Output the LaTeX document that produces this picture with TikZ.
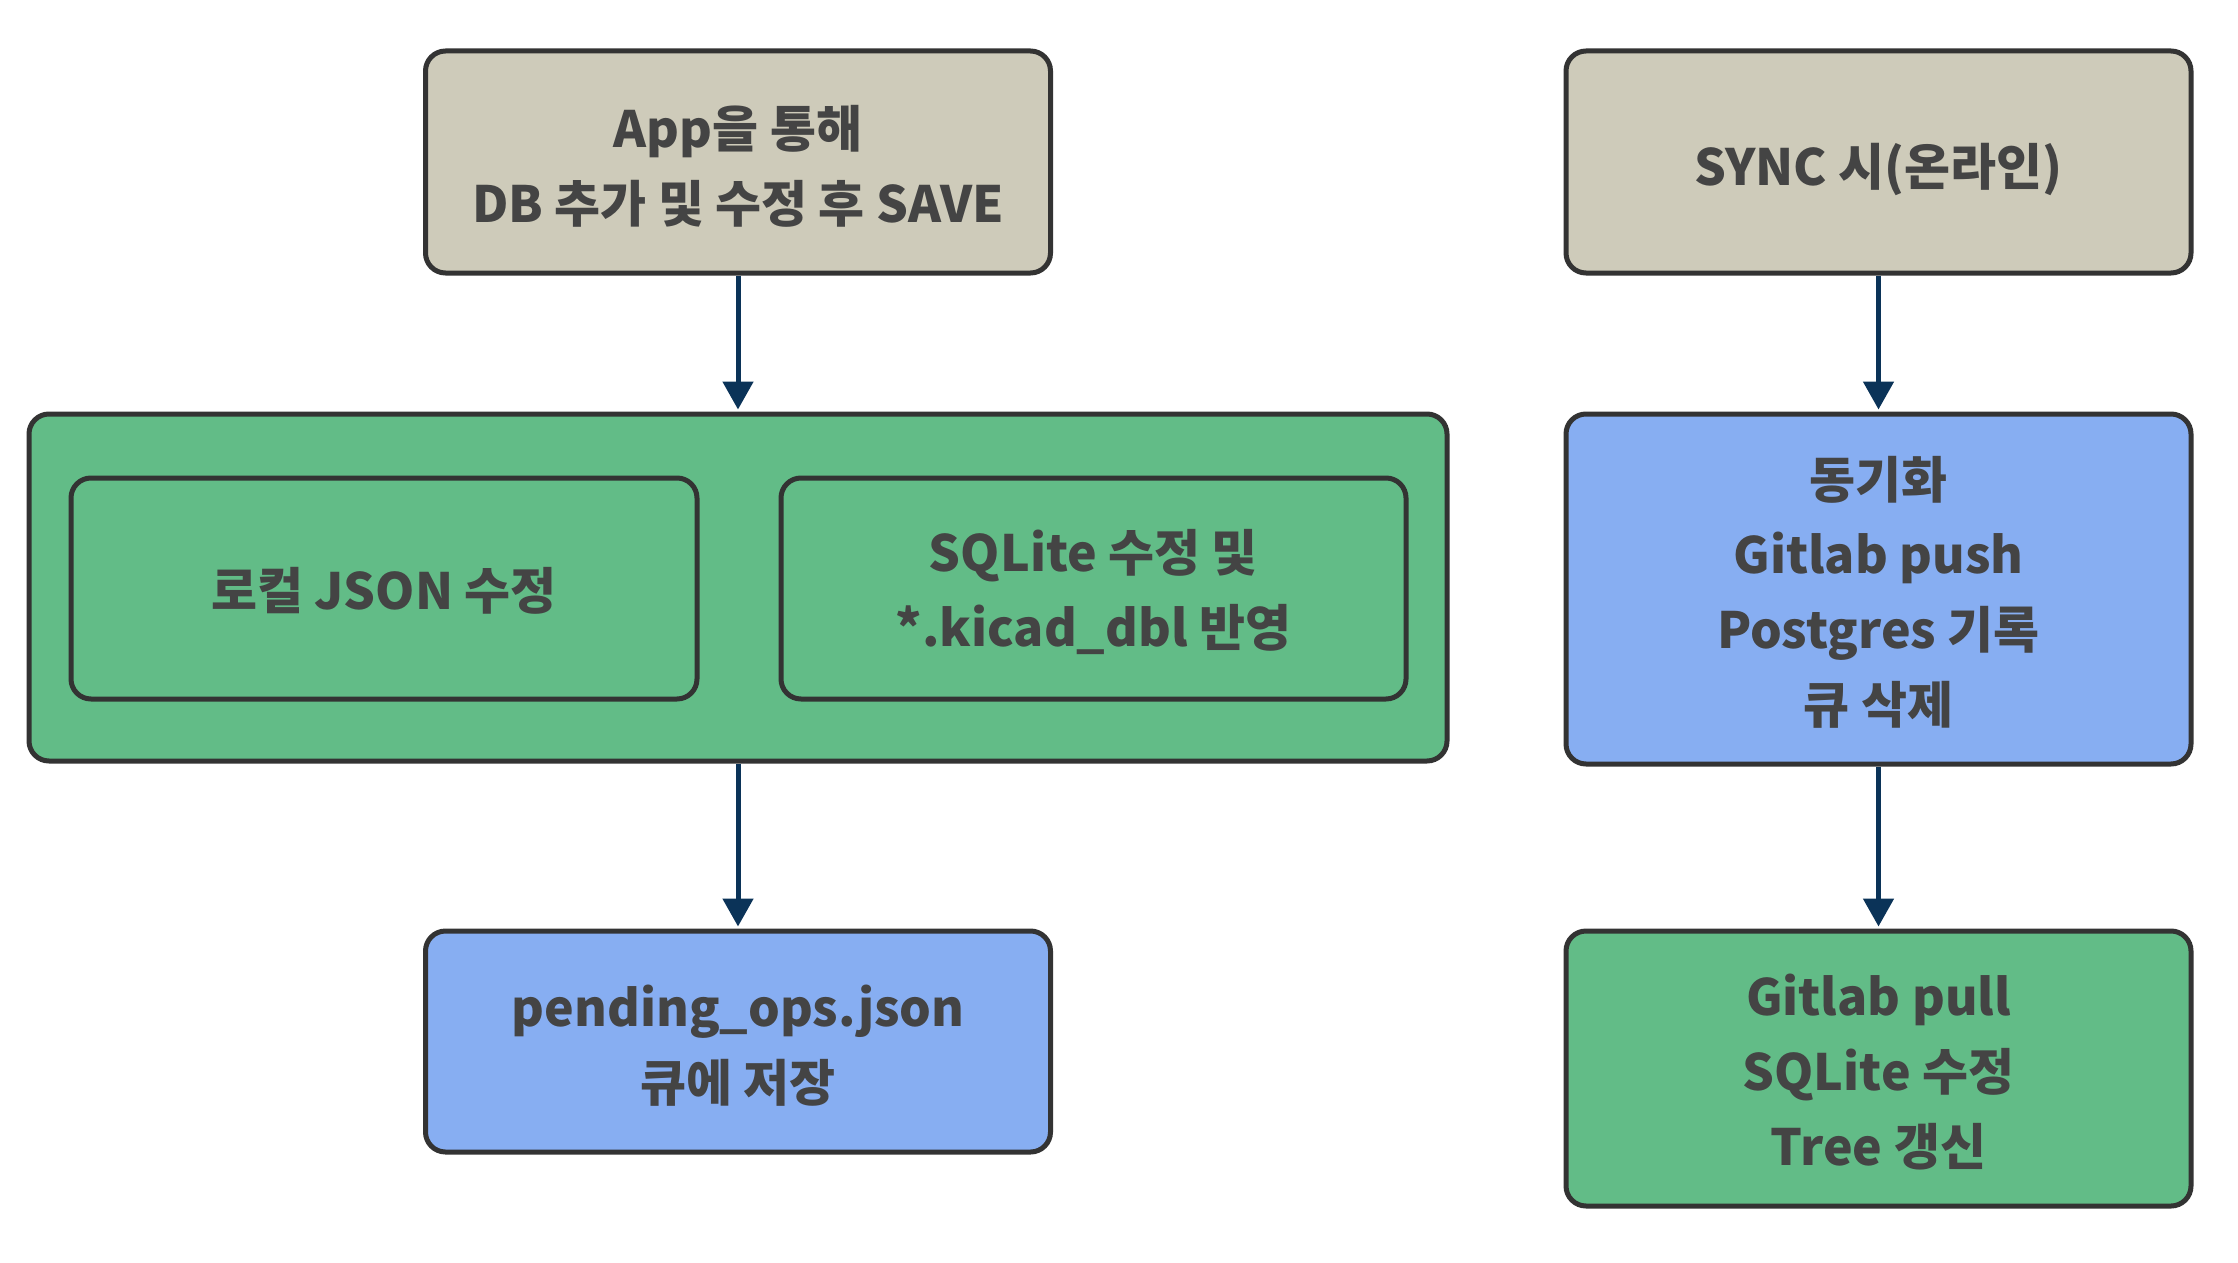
\documentclass[tikz,border=0pt]{standalone}
\usepackage{fontspec}
\setmainfont{Noto Sans CJK KR}
\usetikzlibrary{arrows.meta}
\definecolor{tanfill}{HTML}{CECBBA}
\definecolor{greenfill}{HTML}{62BC87}
\definecolor{bluefill}{HTML}{87AEF2}
\definecolor{edgecol}{HTML}{333333}
\definecolor{txtcol}{HTML}{444444}
\definecolor{arrcol}{HTML}{0B3358}
\tikzset{
  boxbase/.style={draw=edgecol, line width=5pt, rounded corners=20pt, inner sep=0pt},
  tanbox/.style={boxbase, fill=tanfill},
  greenbox/.style={boxbase, fill=greenfill},
  bluebox/.style={boxbase, fill=bluefill},
  txt/.style={inner sep=0pt, align=center, text=txtcol, font=\fontsize{50}{75}\selectfont\bfseries},
  arr/.style={draw=arrcol, line width=5pt, -{Triangle[length=28pt,width=30pt]}, shorten >=2pt}
}
\begin{document}
\begin{tikzpicture}[x=1pt,y=-1pt]
\useasboundingbox[fill=white] (0,0) rectangle (2238,1263);
% left column
\node[tanbox, minimum width=625pt, minimum height=222pt] (app) at (738,162) {};
\node[txt] (appt) at ([yshift=-4pt]app.center) {App을 통해\\DB 추가 및 수정 후 SAVE};
\node[greenbox, minimum width=1418pt, minimum height=347pt] (cont) at (738,587.5) {};
\node[greenbox, minimum width=626pt, minimum height=221pt] (json) at (384,588.5) {};
\node[txt] (jsont) at ([yshift=-2pt]json.center) {로컬 JSON 수정};
\node[greenbox, minimum width=625pt, minimum height=221pt] (sqlite) at (1093.5,588.5) {};
\node[txt] (sqlitet) at ([yshift=-3pt]sqlite.center) {SQLite 수정 및\\*.kicad\_dbl 반영};
\node[bluebox, minimum width=625pt, minimum height=221pt] (pend) at (738,1041.5) {};
\node[txt] (pendt) at ([yshift=-4pt]pend.center) {pending\_ops.json\\큐에 저장};
% right column
\node[tanbox, minimum width=625pt, minimum height=222pt] (sync) at (1878.5,162) {};
\node[txt] (synct) at ([yshift=-7pt]sync.center) {SYNC 시(온라인)};
\node[bluebox, minimum width=625pt, minimum height=350pt] (push) at (1878.5,589) {};
\node[txt] (pusht) at ([yshift=-3pt]push.center) {동기화\\Gitlab push\\Postgres 기록\\큐 삭제};
\node[greenbox, minimum width=625pt, minimum height=275pt] (pull) at (1878.5,1068.5) {};
\node[txt] (pullt) at ([yshift=-4pt]pull.center) {Gitlab pull\\SQLite 수정\\Tree 갱신};
% arrows
\draw[arr] (app.south) -- (cont.north);
\draw[arr] (cont.south) -- (pend.north);
\draw[arr] (sync.south) -- (push.north);
\draw[arr] (push.south) -- (pull.north);
\end{tikzpicture}
\end{document}
